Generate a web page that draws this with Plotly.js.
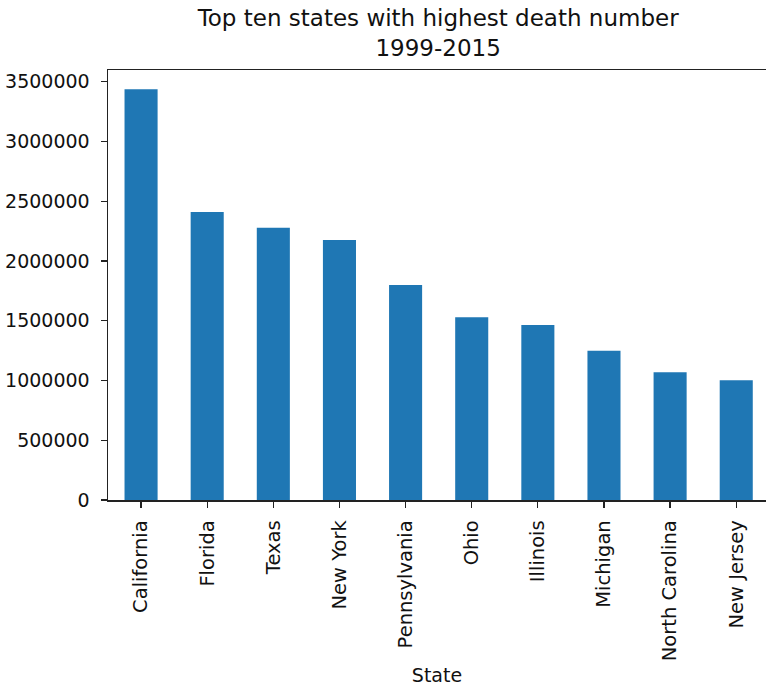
<!DOCTYPE html>
<html>
<head>
<meta charset="utf-8">
<script src="https://cdn.plot.ly/plotly-3.0.1.min.js"></script>
<style>html,body{margin:0;padding:0;background:#fff;}#chart{width:766px;height:687px;}</style>
</head>
<body>
<div id="chart"></div>
<script>
const states = ["California", "Florida", "Texas", "New York", "Pennsylvania", "Ohio", "Illinois", "Michigan", "North Carolina", "New Jersey"];
const deaths = [3437000, 2410000, 2279000, 2176000, 1799000, 1529000, 1464000, 1249000, 1068000, 1002000];
const yTicks = [0, 500000, 1000000, 1500000, 2000000, 2500000, 3000000, 3500000];

const font = "DejaVu Sans, sans-serif";
const trace = {
  type: "bar",
  x: states.map((s, i) => i),
  y: deaths,
  width: 0.5,
  marker: {color: "#1f77b4", line: {width: 0}},
  hoverinfo: "x+y"
};
const layout = {
  width: 766, height: 687,
  margin: {l: 108, r: 0, t: 70, b: 187},
  paper_bgcolor: "#fff", plot_bgcolor: "#fff",
  showlegend: false,
  title: {text: "Top ten states with highest death number<br>1999-2015", font: {family: font, size: 23, color: "#111"}, x: 0.572, xanchor: "center", yref: "paper", y: 1, yanchor: "bottom", pad: {b: 44}},
  xaxis: {
    range: [-0.5, 9.45], tickmode: "array", tickvals: states.map((s, i) => i), ticktext: states,
    tickangle: -90, ticks: "outside", ticklen: 6, tickwidth: 1.3, tickcolor: "#222", ticklabelstandoff: 5,
    showgrid: false, zeroline: false, showline: true, linecolor: "#222", linewidth: 1.5, mirror: true,
    tickfont: {family: font, size: 19.5, color: "#111"},
    title: {text: "State", font: {family: font, size: 19, color: "#111"}, standoff: 8},
    automargin: false
  },
  yaxis: {
    range: [0, 3598000], tickmode: "array", tickvals: yTicks, ticktext: yTicks.map(String),
    ticks: "outside", ticklen: 6, tickwidth: 1.3, tickcolor: "#222", ticklabelstandoff: 7,
    showgrid: false, zeroline: false, showline: true, linecolor: "#222", linewidth: 1.5, mirror: true,
    tickfont: {family: font, size: 19, color: "#111"},
    automargin: false
  }
};
Plotly.newPlot("chart", [trace], layout, {displayModeBar: false, staticPlot: true});
</script>
</body>
</html>
